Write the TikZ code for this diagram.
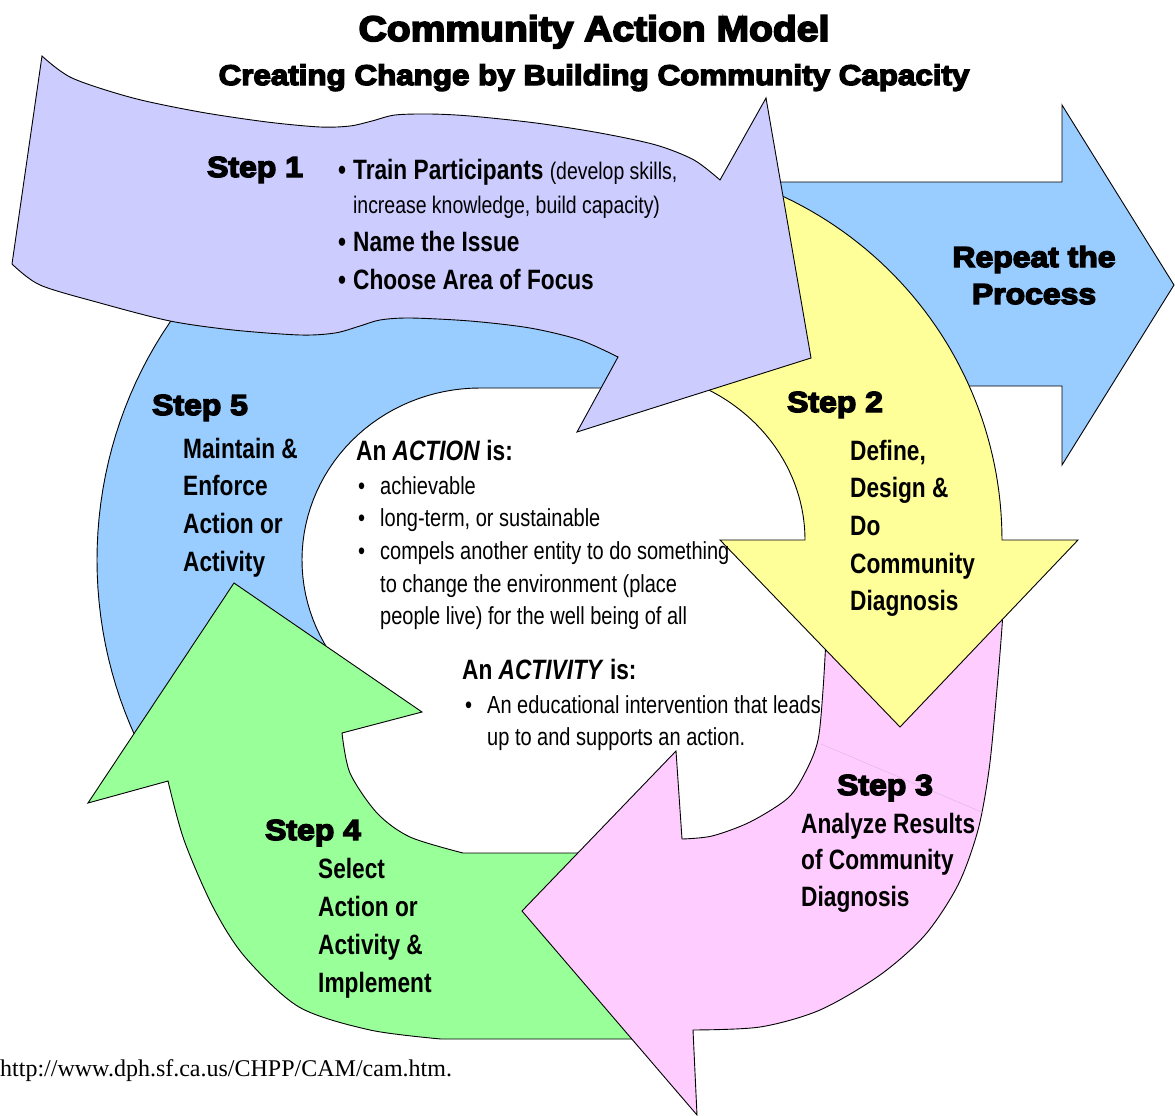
\documentclass[tikz,border=0pt]{standalone}
\usepackage{fontspec}
\newfontfamily\heavyfont{Liberation Sans}[FakeBold=5,BoldFeatures={FakeBold=5},FakeStretch=1.1]
\newfontfamily\narrowfont{Liberation Sans}[FakeStretch=0.81]
\newfontfamily\urlfont{Liberation Serif}
\definecolor{stepone}{HTML}{CCCCFF}
\definecolor{steptwo}{HTML}{FFFF99}
\definecolor{stepthree}{HTML}{FFCCFF}
\definecolor{stepfour}{HTML}{99FF99}
\definecolor{stepfive}{HTML}{99CCFF}
\definecolor{seam}{HTML}{E0B8E8}

\begin{document}
\begin{tikzpicture}[
		x=1pt, y=-1pt,
		band/.style={draw=black, line width=0.9pt},
		heavy/.style={font=\heavyfont\bfseries\fontsize{29}{37}\selectfont, inner sep=0pt, anchor=base west},
		stepbody/.style={font=\narrowfont\bfseries\fontsize{28}{37.7}\selectfont, inner sep=0pt, anchor=base west},
		note/.style={font=\narrowfont\fontsize{24.7}{32.7}\selectfont, inner sep=0pt, anchor=base west}
		]
		\fill[white] (0,0) rectangle (1175,1116);
		\useasboundingbox (0,0) rectangle (1175,1116);
		\filldraw[band, fill=stepfive] (760,182) -- (1062,182) -- (1062,105) -- (1174,285)
			-- (1062,465) -- (1062,386) -- (760,386) -- cycle;
		\filldraw[band, fill=stepfive] (650,388) -- (650,250)
			-- plot[domain=112:210, samples=50] ({480+383*cos(\x)}, {560-405*sin(\x)})
			-- plot[domain=232:90, samples=50] ({480+178*cos(\x)}, {560-172*sin(\x)}) -- cycle;
		\filldraw[band, fill=stepfour] (234,583) -- (422,712) -- (342,733)
			-- plot[smooth] coordinates {(342,733) (350,773) (377,813) (410,837) (463,853)}
			-- (665,853) -- (665,1039) -- (441,1039)
			-- plot[smooth] coordinates {(441,1039) (370,1030) (299,1007) (245,957) (213,907)
				(184,840) (168,781)} -- (88,803) -- cycle;
		\filldraw[band, fill=stepthree] (1006,560)
			-- plot[smooth] coordinates {(1006,560) (1002,627) (996,700) (989,770) (978,830) (958,885)
				(925,935) (880,975) (820,1010) (760,1027) (693,1030)}
			-- (697,1115) -- (522,911) -- (676,751) -- (682,839)
			-- plot[smooth] coordinates {(682,839) (712,836) (750,822) (788,798) (806,771) (818,740)
				(823,690) (827,620) (830,560)} -- cycle;
		\draw[seam, line width=0.5pt] (821,744) -- (984,813);
		\filldraw[band, fill=steptwo] plot[domain=70:0, samples=50] ({620+382*cos(\x)}, {540-380*sin(\x)})
			-- (1078,540) -- (900,727) -- (720,540)
			-- plot[domain=0:65, samples=40] ({620+185*cos(\x)}, {540-171*sin(\x)}) -- cycle;
		\filldraw[band, fill=stepone] (42,56)
			-- plot[smooth] coordinates {(42,56) (72,78) (133,98) (200,112) (267,122) (320,127)
				(350,126) (372,121) (395,115) (430,114) (470,116) (536,123) (600,133) (656,145) (694,160) (720,180)}
			-- (766,98) -- (811,358) -- (577,432) -- (618,357)
			-- plot[smooth] coordinates {(618,357) (580,340) (530,328) (470,321) (410,318) (380,320)
				(360,326) (335,333) (300,335) (233,330) (170,321) (100,303) (40,285) (12,264)} -- cycle;

		\node[heavy, anchor=base, font=\heavyfont\bfseries\fontsize{35.5}{35.5}\selectfont] (title) at (594,41)
			{Community Action Model};
		\node[heavy, anchor=base, font=\heavyfont\bfseries\fontsize{28.5}{28.5}\selectfont] (subtitle) at (594,85)
			{Creating Change by Building Community Capacity};
		\node[heavy] (step1) at (207,177) {Step 1};
		\node[stepbody, font=\narrowfont\bfseries\fontsize{28}{34}\selectfont] (train) at (338,179)
			{\begin{tabular}[t]{@{}l@{\hspace{7pt}}l@{}}
				\textbullet & Train Participants {\mdseries\fontsize{24}{34}\selectfont(develop skills,}\\
				& {\mdseries\fontsize{24}{34}\selectfont increase knowledge, build capacity)}\\[4pt]
				\textbullet & Name the Issue\\[4pt]
				\textbullet & Choose Area of Focus
			\end{tabular}};
		\node[heavy, anchor=base] (repeat) at (1034,267)
			{\begin{tabular}[t]{@{}c@{}}Repeat the\\Process\end{tabular}};
		\node[heavy] (step2) at (787,412) {Step 2};
		\node[stepbody] (define) at (850,460)
			{\begin{tabular}[t]{@{}l@{}}Define,\\Design \&\\Do\\Community\\Diagnosis\end{tabular}};
		\node[heavy] (step3) at (837,795) {Step 3};
		\node[stepbody, font=\narrowfont\bfseries\fontsize{28}{36.5}\selectfont] (analyze) at (801,833)
			{\begin{tabular}[t]{@{}l@{}}Analyze Results\\of Community\\Diagnosis\end{tabular}};
		\node[heavy] (step4) at (265,840) {Step 4};
		\node[stepbody, font=\narrowfont\bfseries\fontsize{28}{38}\selectfont] (select) at (318,878)
			{\begin{tabular}[t]{@{}l@{}}Select\\Action or\\Activity \&\\Implement\end{tabular}};
		\node[heavy] (step5) at (152,415) {Step 5};
		\node[stepbody] (maintain) at (183,458)
			{\begin{tabular}[t]{@{}l@{}}Maintain \&\\Enforce\\Action or\\Activity\end{tabular}};
		\node[stepbody] (action) at (356,460) {An \textit{ACTION} is:};
		\node[note] (actionlist) at (358,494)
			{\begin{tabular}[t]{@{}l@{\hspace{15pt}}l@{}}
				\textbullet & achievable\\
				\textbullet & long-term, or sustainable\\
				\textbullet & compels another entity to do something\\
				& to change the environment (place\\
				& people live) for the well being of all
			\end{tabular}};
		\node[stepbody] (activity) at (462,679) {An \textit{ACTIVITY} is:};
		\node[note] (activitylist) at (465,713)
			{\begin{tabular}[t]{@{}l@{\hspace{15pt}}l@{}}
				\textbullet & An educational intervention that leads\\
				& up to and supports an action.
			\end{tabular}};
		\node[inner sep=0pt, anchor=base west, font=\urlfont\fontsize{24}{24}\selectfont] (source) at (0,1076)
			{http://www.dph.sf.ca.us/CHPP/CAM/cam.htm.};
	\end{tikzpicture}
\end{document}
